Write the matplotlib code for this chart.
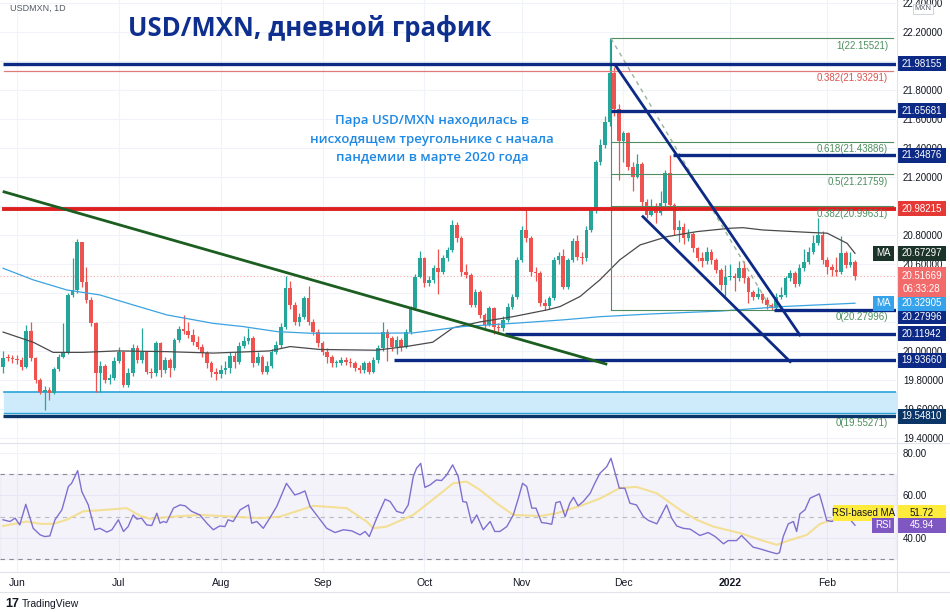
import numpy as np
import matplotlib.pyplot as plt
from matplotlib.patches import Rectangle
from matplotlib.lines import Line2D
from matplotlib.transforms import blended_transform_factory

plt.rcParams['font.family'] = ['Liberation Sans', 'DejaVu Sans']

# USD/MXN daily candles, bar 0 = 27 May 2021 ... bar 184 = 9 Feb 2022
first_open = 19.892
closes = [19.954, 19.949, 19.945, 19.938, 19.892, 20.138, 19.949, 19.800, 19.720, 19.731,
          19.708, 19.876, 19.961, 19.995, 20.386, 20.421, 20.749, 20.478, 20.352, 20.191,
          19.846, 19.899, 19.800, 19.816, 19.931, 19.995, 19.766, 19.846, 20.023, 19.938,
          19.995, 19.857, 19.846, 20.053, 19.869, 19.938, 19.885, 20.076, 20.149, 20.138,
          20.110, 20.064, 20.030, 19.984, 19.915, 19.857, 19.840, 19.870, 19.880, 19.968,
          19.927, 20.037, 20.065, 20.087, 19.915, 19.960, 19.858, 19.899, 19.995, 20.042,
          20.167, 20.432, 20.317, 20.202, 20.236, 20.363, 20.202, 20.133, 20.053, 19.995,
          19.961, 19.915, 19.915, 19.938, 19.926, 19.915, 19.880, 19.869, 19.915, 19.857,
          19.938, 20.018, 20.133, 20.087, 20.030, 20.076, 20.030, 20.133, 20.294, 20.512,
          20.639, 20.466, 20.489, 20.570, 20.547, 20.639, 20.696, 20.869, 20.777, 20.547,
          20.524, 20.317, 20.409, 20.248, 20.179, 20.294, 20.167, 20.156, 20.213, 20.305,
          20.374, 20.627, 20.834, 20.777, 20.547, 20.535, 20.328, 20.310, 20.363, 20.627,
          20.655, 20.443, 20.627, 20.758, 20.646, 20.639, 20.834, 20.972, 21.305, 21.420,
          21.581, 21.914, 21.670, 21.450, 21.500, 21.270, 21.200, 21.290, 21.030, 20.940,
          20.990, 20.950, 21.020, 21.225, 21.007, 20.834, 20.857, 20.777, 20.806, 20.708,
          20.639, 20.620, 20.685, 20.627, 20.559, 20.455, 20.512, 20.520, 20.505, 20.570,
          20.500, 20.409, 20.374, 20.390, 20.352, 20.317, 20.294, 20.374, 20.386, 20.501,
          20.535, 20.460, 20.570, 20.616, 20.685, 20.742, 20.800, 20.627, 20.581, 20.559,
          20.547, 20.674, 20.593, 20.610, 20.517]
highs = [20.00, 19.98, 19.97, 19.97, 19.96, 20.18, 20.20, 19.96, 19.81, 19.76,
         19.75, 19.89, 19.98, 20.19, 20.40, 20.64, 20.77, 20.75, 20.58, 20.37,
         20.20, 19.93, 19.91, 19.84, 19.96, 20.03, 20.00, 19.88, 20.05, 20.04,
         20.16, 20.00, 19.88, 20.07, 20.06, 19.96, 19.95, 20.09, 20.17, 20.25,
         20.20, 20.15, 20.10, 20.05, 20.00, 19.93, 19.88, 19.90, 19.93, 19.99,
         19.99, 20.06, 20.10, 20.16, 20.10, 19.99, 19.97, 19.93, 20.01, 20.07,
         20.19, 20.52, 20.48, 20.34, 20.26, 20.38, 20.45, 20.22, 20.15, 20.07,
         20.02, 19.97, 19.94, 19.96, 19.96, 19.95, 19.93, 19.90, 19.93, 19.93,
         19.96, 20.04, 20.20, 20.15, 20.10, 20.10, 20.09, 20.15, 20.31, 20.53,
         20.69, 20.65, 20.52, 20.59, 20.70, 20.66, 20.72, 20.90, 20.89, 20.79,
         20.60, 20.54, 20.43, 20.42, 20.26, 20.31, 20.30, 20.19, 20.24, 20.33,
         20.39, 20.65, 20.86, 20.98, 20.79, 20.58, 20.55, 20.36, 20.38, 20.65,
         20.68, 20.70, 20.64, 20.78, 20.80, 20.68, 20.86, 20.99, 21.32, 21.46,
         21.62, 22.155, 21.96, 21.70, 21.52, 21.51, 21.30, 21.36, 21.30, 21.05,
         21.05, 21.02, 21.10, 21.25, 21.35, 21.02, 20.90, 20.88, 20.84, 20.82,
         20.72, 20.68, 20.72, 20.70, 20.64, 20.57, 20.59, 20.60, 20.54, 20.62,
         20.62, 20.52, 20.42, 20.44, 20.40, 20.37, 20.33, 20.40, 20.44, 20.52,
         20.56, 20.55, 20.60, 20.70, 20.72, 20.80, 20.92, 20.83, 20.65, 20.60,
         20.65, 20.79, 20.69, 20.68, 20.63]
lows = [19.85, 19.93, 19.92, 19.91, 19.87, 19.88, 19.93, 19.78, 19.70, 19.59,
        19.66, 19.70, 19.86, 19.95, 19.98, 20.37, 20.40, 20.44, 20.33, 20.17,
        19.72, 19.72, 19.78, 19.77, 19.80, 19.92, 19.75, 19.75, 19.83, 19.92,
        19.92, 19.84, 19.81, 19.83, 19.82, 19.85, 19.82, 19.87, 20.06, 20.12,
        20.09, 20.04, 20.01, 19.96, 19.88, 19.82, 19.80, 19.81, 19.84, 19.85,
        19.88, 19.91, 20.02, 20.05, 19.89, 19.90, 19.84, 19.84, 19.88, 19.98,
        20.02, 20.15, 20.29, 20.18, 20.17, 20.22, 20.18, 20.11, 20.03, 19.97,
        19.92, 19.89, 19.89, 19.90, 19.90, 19.89, 19.86, 19.85, 19.85, 19.84,
        19.85, 19.92, 20.00, 19.93, 20.00, 19.98, 20.00, 20.02, 20.12, 20.28,
        20.50, 20.44, 20.45, 20.47, 20.39, 20.53, 20.62, 20.68, 20.75, 20.52,
        20.50, 20.30, 20.30, 20.23, 20.16, 20.17, 20.12, 20.12, 20.14, 20.20,
        20.29, 20.36, 20.61, 20.75, 20.52, 20.48, 20.31, 20.28, 20.29, 20.35,
        20.60, 20.43, 20.43, 20.61, 20.63, 20.60, 20.62, 20.82, 20.95, 21.28,
        21.40, 21.55, 21.62, 21.18, 21.30, 21.25, 21.10, 21.19, 20.98, 20.92,
        20.93, 20.88, 20.94, 21.00, 20.98, 20.80, 20.75, 20.74, 20.76, 20.68,
        20.62, 20.58, 20.60, 20.60, 20.54, 20.42, 20.38, 20.49, 20.41, 20.48,
        20.47, 20.33, 20.35, 20.36, 20.33, 20.29, 20.28, 20.28, 20.36, 20.37,
        20.48, 20.44, 20.45, 20.55, 20.60, 20.67, 20.73, 20.60, 20.53, 20.52,
        20.52, 20.53, 20.57, 20.58, 20.49]

month_pos = [3, 25, 47, 69, 91, 112, 134, 157, 178]
month_labels = ['Jun', 'Jul', 'Aug', 'Sep', 'Oct', 'Nov', 'Dec', '2022', 'Feb']

# moving averages (bar, value)
ma_black_x = [0, 6.5, 10.8, 17.3, 24.6, 35.4, 45.4, 57.6, 62, 68.4, 80.5, 87, 92.8, 97.2, 103,
              110.1, 117.5, 120.3, 124.6, 128.9, 133.2, 137.6, 143.4, 149.9, 157, 159.8, 164.1,
              174.9, 178, 182.3, 184]
ma_black_y = [20.13, 20.06, 19.99, 19.99, 20.00, 19.995, 19.985, 20.00, 20.03, 20.01, 20.005,
              20.03, 20.06, 20.16, 20.20, 20.236, 20.283, 20.306, 20.375, 20.49, 20.628, 20.731,
              20.788, 20.823, 20.846, 20.85, 20.834, 20.816, 20.812, 20.742, 20.673]
ma_blue_x = [0, 6.5, 13.8, 20.9, 28.1, 35.4, 45.4, 51.8, 59.2, 66.3, 80.8, 88.5, 99.3, 110.1,
             120.9, 128.9, 140, 155, 168.4, 184]
ma_blue_y = [20.57, 20.49, 20.42, 20.386, 20.317, 20.248, 20.19, 20.168, 20.133, 20.122, 20.122,
             20.124, 20.168, 20.19, 20.214, 20.236, 20.255, 20.275, 20.306, 20.329]

# RSI and its MA (bar, value)
rsi_x = [0.0, 1.5, 2.6, 3.6, 4.9, 6.5, 8.0, 9.0, 10.1, 11.2, 12.7, 14.1, 14.8, 16.1, 17.0, 18.4,
         19.8, 20.9, 22.4, 23.5, 24.9, 26.0, 27.0, 28.1, 28.9, 29.9, 31.0, 32.1, 33.2, 33.9, 34.6,
         35.3, 36.8, 38.2, 39.3, 40.7, 42.5, 44.0, 45.4, 46.8, 47.9, 48.6, 49.7, 51.2, 53.0, 53.7,
         54.8, 56.2, 57.6, 59.1, 61.2, 63.0, 64.1, 65.2, 66.3, 67.7, 69.9, 71.7, 73.5, 75.3, 77.1,
         78.2, 79.1, 80.7, 82.5, 83.6, 85.0, 86.4, 87.5, 88.6, 89.3, 90.2, 91.1, 92.2, 93.6, 94.7,
         95.8, 97.1, 98.3, 99.3, 100.1, 101.2, 102.3, 103.7, 105.2, 106.2, 107.3, 108.8, 110.2,
         111.3, 112.2, 113.1, 114.2, 115.1, 116.3, 117.4, 118.5, 119.4, 120.3, 121.4, 122.4,
         123.2, 124.2, 125.3, 126.8, 127.8, 128.9, 130.4, 131.3, 132.2, 133.1, 134.3, 135.4,
         136.8, 138.3, 139.4, 141.2, 142.2, 143.3, 144.4, 145.5, 146.9, 148.4, 150.5, 152.3,
         153.8, 155.6, 156.6, 158.4, 159.5, 160.6, 162.0, 163.5, 165.3, 167.1, 167.7, 168.5,
         169.6, 170.7, 171.4, 172.1, 173.2, 174.3, 175.4, 176.3, 177.0, 177.9, 179.0, 180, 181,
         182, 183, 184]
rsi_y = [48.5, 47.7, 49.3, 46.1, 55.8, 44.5, 41.4, 40.6, 40.9, 48.5, 53.2, 64.2, 65.7, 71.7, 61.8,
         55.5, 43.8, 44.5, 42.7, 43.8, 48.5, 43.0, 45.3, 50.8, 48.8, 49.3, 46.1, 45.8, 51.6, 46.9,
         47.7, 47.2, 54.0, 55.5, 55.1, 52.5, 50.8, 46.9, 43.8, 45.6, 45.3, 48.5, 47.7, 53.2, 55.5,
         46.9, 47.7, 44.5, 49.3, 54.8, 65.7, 60.2, 61.0, 62.1, 54.8, 50.8, 44.5, 42.5, 43.8, 43.3,
         41.4, 43.0, 40.6, 49.3, 58.2, 57.1, 52.5, 51.6, 55.5, 68.9, 72.8, 75.1, 63.8, 64.9, 67.3,
         67.0, 69.6, 74.4, 68.9, 57.1, 56.8, 46.9, 50.8, 43.8, 47.7, 43.0, 43.0, 45.3, 50.8, 58.7,
         65.7, 64.2, 54.0, 54.0, 47.2, 46.9, 46.4, 56.6, 57.1, 50.0, 56.3, 59.1, 55.1, 57.1, 61.0,
         65.7, 70.4, 73.6, 77.5, 70.4, 63.4, 63.4, 56.3, 55.5, 50.0, 48.2, 46.6, 50.8, 55.5, 49.3,
         45.6, 44.5, 44.1, 41.1, 42.5, 40.6, 37.2, 38.7, 38.7, 41.1, 38.7, 35.6, 34.8, 33.6, 32.5,
         33.0, 40.6, 46.6, 47.7, 43.0, 51.3, 53.2, 58.7, 59.8, 60.7, 55.5, 48.2, 47.7, 49.0, 51.5,
         49.5, 48.5, 45.94]
rsi_ma_x = [0, 5.1, 8.0, 10.8, 13.7, 17.3, 20.9, 26.7, 29.5, 31.7, 36.8, 42.5, 49.7, 55.5, 59.8,
            67, 74.2, 78.5, 80, 82.8, 88.6, 93.6, 97.2, 100.1, 103, 106.6, 110.2, 116, 119.6,
            124.6, 128.9, 133.2, 136.8, 141.2, 146.2, 149.8, 153.4, 159.2, 163.5, 167.1, 169.2,
            173.6, 176.4, 179, 184]
rsi_ma_y = [45.6, 47.7, 46.6, 46.6, 48.5, 52.5, 53.0, 54.0, 50.5, 49.0, 50.0, 50.8, 50.0, 49.3,
            50.0, 55.1, 54.0, 47.7, 44.5, 45.3, 50.8, 59.4, 65.7, 66.5, 62.6, 56.3, 50.8, 50.3,
            51.6, 55.0, 58.5, 63.5, 64.0, 61.0, 53.2, 48.5, 45.3, 42.2, 39.1, 36.7, 38.4, 41.4,
            46.5, 48.5, 51.72]

# drawn horizontal levels: price and the bar where each starts
navy_levels = [21.98155, 21.65681, 21.34876, 20.27996, 20.11942, 19.93660, 19.54810]
navy_starts = [0, 131.3, 144.7, 166.5, 108.4, 84.4, 0]
red_level = 20.98215
fib_labels = ['1', '0.618', '0.5', '0.382', '0']
fib_prices = [22.15521, 21.43886, 21.21759, 20.99631, 20.27996]
last_price = 20.51669

W, H = 950, 612
XMIN, XMAX = -0.67, 192.86
NAVY, RED, TEAL, CORAL = '#0c2a85', '#dd1f1f', '#26a69a', '#ef5350'
FIB = '#4f8f5f'

fig = plt.figure(figsize=(9.5, 6.12), dpi=100)
ax = fig.add_axes([0, 1 - 443 / H, 896 / W, 443 / H])
axr = fig.add_axes([0, 1 - 572 / H, 896 / W, 129 / H], sharex=ax)
ax.set_xlim(XMIN, XMAX)
ax.set_ylim(19.365, 22.42)
axr.set_ylim(23.9, 84.7)

for a in (ax, axr):
    for s in a.spines.values():
        s.set_visible(False)
    a.yaxis.tick_right()
    a.tick_params(axis='both', length=0, labelsize=7, labelcolor='#131722')
    a.tick_params(axis='y', pad=5)
    a.set_xticks(month_pos)
    a.grid(True, color='#f0f3fa', lw=0.8)
    a.set_axisbelow(True)

# price scale; the ticks sitting under the coloured level tags stay unlabeled
price_ticks = np.round(np.arange(19.4, 22.41, 0.2), 1)
covered = {22.0, 21.0, 20.4, 20.2}
ax.set_yticks(price_ticks)
ax.set_yticklabels(['' if v in covered else f'{v:.5f}' for v in price_ticks])
ax.tick_params(axis='x', labelbottom=False)
axr.set_yticks([40, 60, 80])
axr.set_yticklabels(['40.00', '60.00', '80.00'])
axr.set_xticklabels(month_labels)
axr.tick_params(axis='x', pad=4, labelsize=7.5)
axr.get_xticklabels()[7].set_fontweight('bold')

# light-blue support zone
ax.fill_between([0.2, XMAX], 19.570, 19.719, color='#cdebfb', zorder=1)
ax.plot([0.2, XMAX], [19.719, 19.719], color='#2aa3d8', lw=1.2, zorder=1.5)
ax.plot([0.2, XMAX], [19.570, 19.570], color='#2aa3d8', lw=1.0, zorder=1.5)

# candles
idx = np.arange(len(closes))
c = np.array(closes)
o = np.array([first_open] + closes[:-1])
col = np.where(c >= o, TEAL, CORAL)
ax.vlines(idx, lows, highs, colors=col, lw=0.9, zorder=3)
ax.bar(idx, np.maximum(np.abs(c - o), 0.008), bottom=np.minimum(o, c), width=0.78,
       color=col, linewidth=0, zorder=3.1)

# moving averages
ax.plot(ma_black_x, ma_black_y, color='#4a4a4a', lw=0.9, zorder=4)
ax.plot(ma_blue_x, ma_blue_y, color='#3ba3e0', lw=0.9, zorder=4)

# last price line
ax.axhline(last_price, color=CORAL, lw=0.8, ls=(0, (1, 2)), alpha=0.5, zorder=2)

# fibonacci retracement (Dec high -> Jan low)
tr_ad = blended_transform_factory(ax.transAxes, ax.transData)
for lab, p in zip(fib_labels, fib_prices):
    ax.plot([131.3, 192.2], [p, p], color=FIB, lw=0.8, zorder=4.5)
    ax.text(888 / 896, p - 0.015, f'{lab}({p:.5f})', transform=tr_ad,
            ha='right', va='top', fontsize=7, color=FIB, zorder=6)
ax.plot([131.3, 131.3], [22.15521, 20.27996], color=FIB, lw=0.8, zorder=4.5)
ax.plot([131.3, 166.1], [22.155, 20.28], color='#9ab59a', lw=1.0, ls=(0, (3, 3)), zorder=4.5)

# big fibonacci leftovers
ax.plot([0.2, 192.2], [21.93291, 21.93291], color='#e07a7a', lw=0.9, zorder=4.5)
ax.text(888 / 896, 21.93291 - 0.015, '0.382(21.93291)', transform=tr_ad,
        ha='right', va='top', fontsize=7, color='#d9534f', zorder=6)
ax.text(888 / 896, 19.55271 - 0.018, '0(19.55271)', transform=tr_ad,
        ha='right', va='top', fontsize=7, color=FIB, zorder=6)

# levels and trend lines
for p, s in zip(navy_levels, navy_starts):
    lc = '#0a3566' if p < 19.6 else NAVY
    ax.plot([s, XMAX], [p, p], color=lc, lw=2.4, zorder=5, solid_capstyle='butt')
ax.plot([0.2, XMAX], [red_level, red_level], color=RED, lw=2.8, zorder=5)
ax.plot([0.2, 130.2], [21.097, 19.91], color='#1b5e20', lw=2.0, zorder=5)
ax.plot([132.2, 172.1], [21.972, 20.11], color=NAVY, lw=2.0, zorder=5)
ax.plot([138.2, 170.0], [20.926, 19.926], color=NAVY, lw=2.0, zorder=5)


def tag(a, y, text, fc, h, x0=897, x1=946, tc='white'):
    tr = blended_transform_factory(fig.transFigure, a.transData)
    a.add_patch(Rectangle((x0 / W, y - h / 2), (x1 - x0) / W, h, transform=tr, fc=fc, ec='none',
                          clip_on=False, zorder=20))
    a.text((x0 + x1) / 2 / W, y, text, transform=tr, ha='center', va='center', fontsize=7,
           color=tc, clip_on=False, zorder=21)


th = 0.105
for p in navy_levels:
    if p == 20.27996:
        continue
    tag(ax, p, f'{p:.5f}', '#0a3566' if p < 19.6 else NAVY, th)
tag(ax, 20.27996 - 0.045, '20.27996', NAVY, th)
tag(ax, red_level, f'{red_level:.5f}', '#e53935', th)
tag(ax, 20.67297, '20.67297', '#1c3329', th)
tag(ax, 20.67297, 'MA', '#1c3329', th, 873, 894)
tag(ax, 20.32905, '20.32905', '#35a3ec', th)
tag(ax, 20.32905, 'MA', '#35a3ec', th, 873, 894)
tr_p = blended_transform_factory(fig.transFigure, ax.transData)
ax.add_patch(Rectangle((897 / W, 20.372), 49 / W, 0.205, transform=tr_p, fc='#f26a6a', ec='none',
                       clip_on=False, zorder=20))
ax.text(921.5 / W, last_price, '20.51669', transform=tr_p, ha='center', va='center', fontsize=7,
        color='white', clip_on=False, zorder=21)
ax.text(921.5 / W, 20.428, '06:33:28', transform=tr_p, ha='center', va='center', fontsize=7,
        color='white', clip_on=False, zorder=21)

# RSI pane
axr.fill_between([XMIN, XMAX], 30, 70, color='#7e57c2', alpha=0.07, zorder=1)
for lvl, al in ((70, 1.0), (50, 0.55), (30, 1.0)):
    axr.axhline(lvl, color='#8a8d96', lw=0.8, ls=(0, (4, 4)), alpha=al, zorder=1.5)
axr.plot(rsi_ma_x, rsi_ma_y, color='#f3dc83', lw=1.5, alpha=0.85, zorder=3)
axr.plot(rsi_x, rsi_y, color='#7f6fcf', lw=1.0, zorder=4)
tag(axr, 51.72, '51.72', '#ffeb3b', 7.6, tc='#131722')
tag(axr, 51.72, 'RSI-based MA', '#ffeb3b', 7.6, 833, 894, tc='#131722')
tag(axr, 45.94, '45.94', '#7e57c2', 7.0)
tag(axr, 45.94, 'RSI', '#7e57c2', 7.0, 872, 894)

# frame lines
for seg in (((896.5, 896.5), (0, 592)), ((0, 950), (443, 443)), ((0, 950), (572, 572)),
            ((0, 950), (592, 592))):
    fig.add_artist(Line2D(np.array(seg[0]) / W, 1 - np.array(seg[1]) / H, color='#e0e3eb', lw=0.8))

# texts
fig.text(10 / W, 1 - 8 / H, 'USDMXN, 1D', fontsize=6.5, color='#555a66', va='center')
fig.text(310 / W, 1 - 28 / H, 'USD/MXN, дневной график', fontsize=18.5, fontweight='bold',
         color='#0f2f8f', ha='center', va='center', family=['Open Sans', 'DejaVu Sans'])
fig.text(432 / W, 1 - 139 / H, 'Пара USD/MXN находилась в\nнисходящем треугольнике с начала\nпандемии в марте 2020 года',
         fontsize=9.5, fontweight='semibold', color='#1e88e5', ha='center', va='center',
         linespacing=1.55, family=['Open Sans', 'DejaVu Sans'])
fig.text(923 / W, 1 - 9 / H, 'MXN', fontsize=5.5, color='#555a66', ha='center', va='center',
         bbox=dict(boxstyle='square,pad=0.25', fc='white', ec='#c9ccd4', lw=0.6), zorder=30)
fig.text(5 / W, 1 - 604 / H, '17', fontsize=9, fontweight='bold', color='#131722', va='center')
fig.text(22 / W, 1 - 604 / H, 'TradingView', fontsize=7.5, color='#131722', va='center')

fig.savefig('out.png', dpi=100, facecolor='white')
